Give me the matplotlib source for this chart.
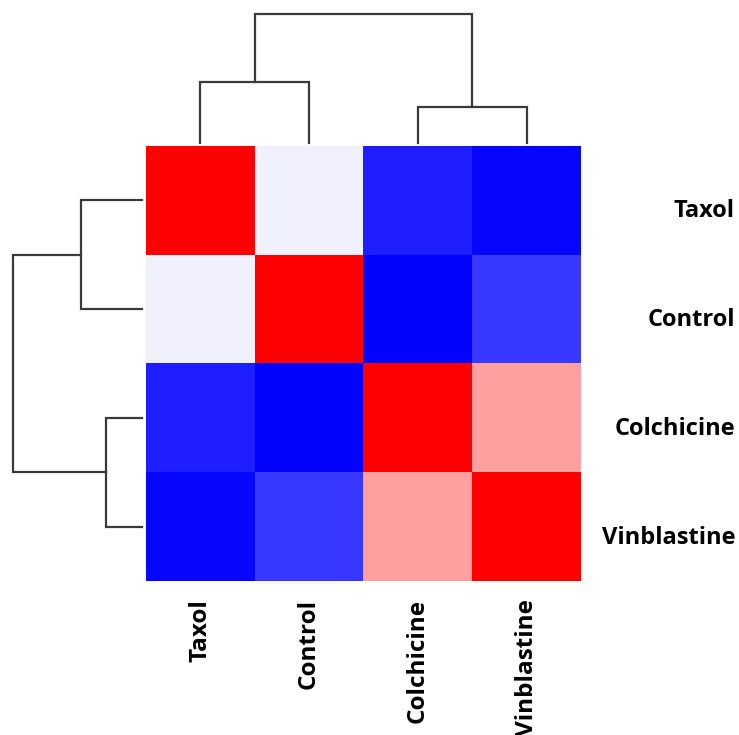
import numpy as np
import matplotlib.pyplot as plt

drugs = ["Taxol", "Control", "Colchicine", "Vinblastine"]
# similarity matrix (bwr scale, -1..1)
corr = np.array([
    [1.00, -0.06, -0.88, -0.97],
    [-0.06, 1.00, -0.99, -0.78],
    [-0.88, -0.99, 1.00, 0.37],
    [-0.97, -0.78, 0.37, 1.00],
])
# dendrogram merge heights (relative to root)
h_pair1 = 0.47   # Taxol + Control
h_pair2 = 0.28   # Colchicine + Vinblastine
h_root = 1.0

W, H = 739, 735
fig = plt.figure(figsize=(W / 100, H / 100), dpi=100)

def fx(px):
    return px / W

def fy(py):
    return 1 - py / H

# heatmap
ax = fig.add_axes([fx(146), fy(581), fx(581) - fx(146), fy(146) - fy(581)])
ax.imshow(corr, cmap="bwr", vmin=-1, vmax=1, aspect="auto", interpolation="nearest")
ax.set_xticks([])
ax.set_yticks([])
for s in ax.spines.values():
    s.set_visible(False)

lc = "#3a3a3a"
lw = 1.6

def draw_tree(a, orient):
    # leaf positions 0..3
    c1 = (0 + 1) / 2
    c2 = (2 + 3) / 2
    links = [(0, 1, 0, 0, h_pair1), (2, 3, 0, 0, h_pair2), (c1, c2, h_pair1, h_pair2, h_root)]
    for x1, x2, y1, y2, hh in links:
        xs = [x1, x1, x2, x2]
        ys = [y1, hh, hh, y2]
        if orient == "top":
            a.plot(xs, ys, color=lc, lw=lw, clip_on=False, solid_joinstyle="miter")
        else:
            a.plot(ys, xs, color=lc, lw=lw, clip_on=False, solid_joinstyle="miter")
    a.axis("off")

axt = fig.add_axes([fx(146), fy(143), fx(581) - fx(146), fy(14) - fy(143)])
draw_tree(axt, "top")
axt.set_xlim(-0.5, 3.5)
axt.set_ylim(0, 1)

axl = fig.add_axes([fx(13), fy(581), fx(142) - fx(13), fy(146) - fy(581)])
draw_tree(axl, "left")
axl.set_ylim(3.5, -0.5)
axl.set_xlim(1, 0)

# labels
for i, name in enumerate(drugs):
    yc = 146 + (i + 0.5) * (581 - 146) / 4 + 11
    fig.text(fx(735), fy(yc), name, ha="right", va="center",
             fontsize=17, fontweight="bold", family="Open Sans")
    xc = 146 + (i + 0.5) * (581 - 146) / 4
    fig.text(fx(xc), fy(599), name, ha="center", va="top", rotation=90,
             fontsize=17.5, fontweight="bold", family="Open Sans")

fig.savefig("out.png", dpi=100, facecolor="white")
